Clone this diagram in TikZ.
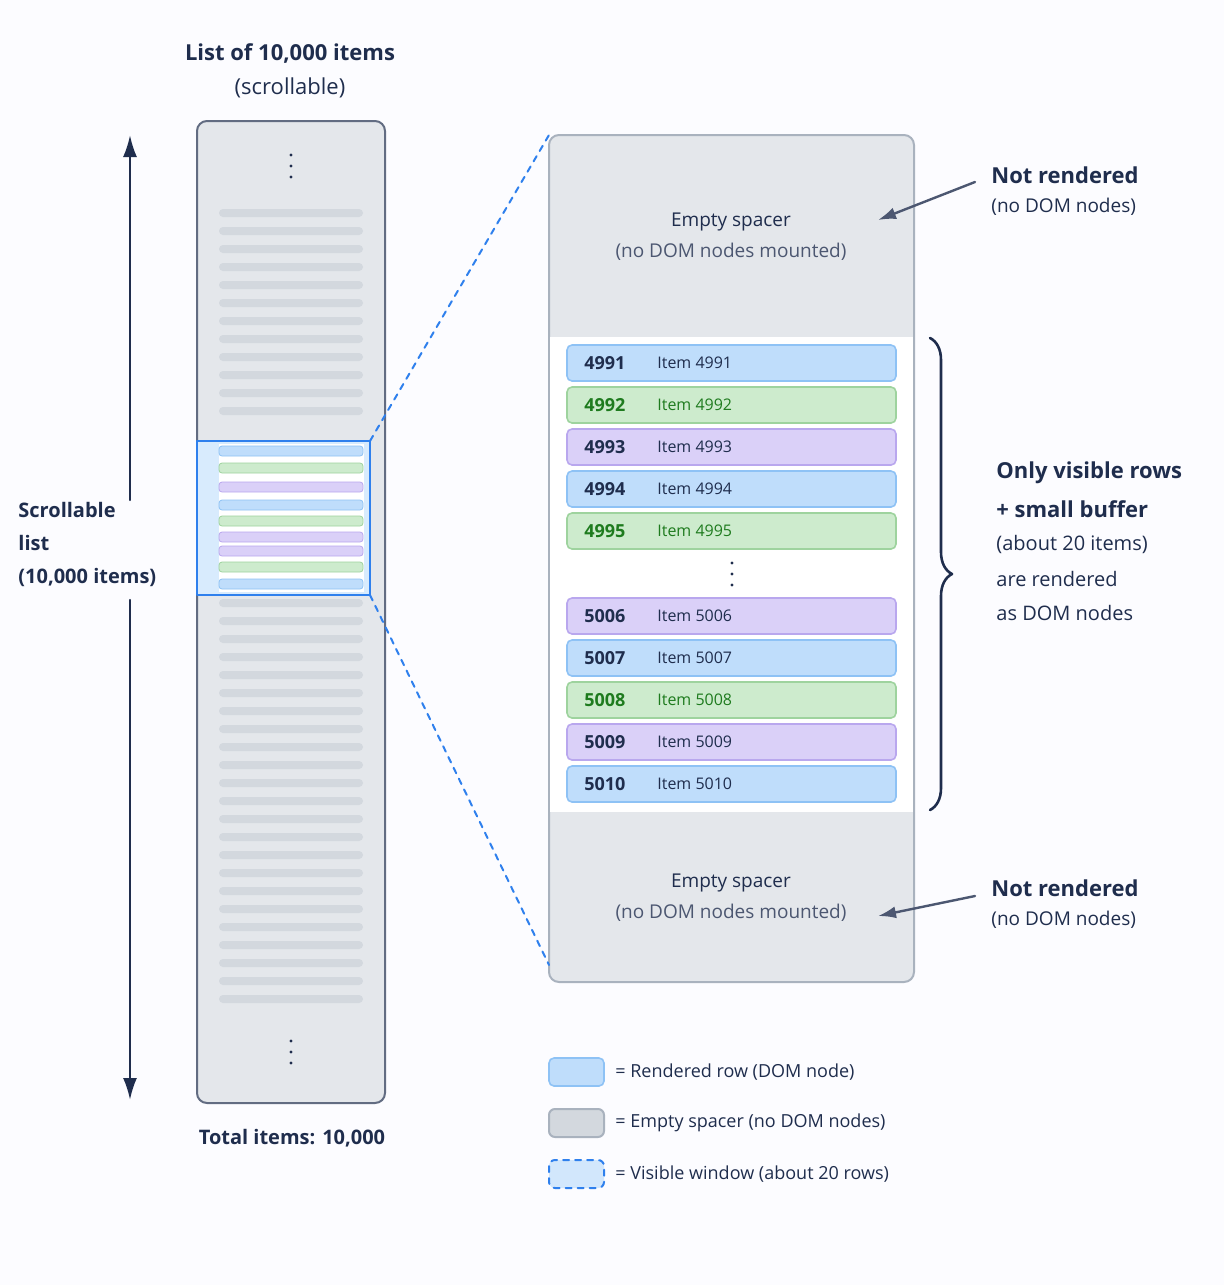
\documentclass[tikz,border=0pt]{standalone}
\usepackage{fontspec}
\setmainfont{Open Sans}
\usetikzlibrary{positioning,arrows.meta,decorations.pathreplacing}
\definecolor{navy}{HTML}{1F2D4D}
\definecolor{spacer}{HTML}{E4E7EB}
\definecolor{spacerline}{HTML}{A9B2BE}
\definecolor{barg}{HTML}{D3D8DE}
\definecolor{winblue}{HTML}{2F80ED}
\definecolor{bluef}{HTML}{BFDDFB}\definecolor{bluel}{HTML}{8EC2F5}
\definecolor{greenf}{HTML}{CDEBCD}\definecolor{greenl}{HTML}{9ED39E}
\definecolor{purplef}{HTML}{DAD0F8}\definecolor{purplel}{HTML}{B9A7EE}
\definecolor{greentext}{HTML}{1E7B1E}
\def\greenname{green}
\tikzset{
  lbl/.style={text=navy, inner sep=0pt, font=\fontsize{9.5}{12}\selectfont},
  boldlbl/.style={lbl, font=\fontsize{11}{13}\selectfont\bfseries},
  rowbox/.style={draw=#1l, fill=#1f, line width=0.8pt, rounded corners=2.5pt},
  minibar/.style={fill=#1f, draw=#1l, line width=0.4pt, rounded corners=1.5pt},
  spacerbox/.style={fill=spacer, draw=spacerline, line width=1pt, rounded corners=5pt},
}
\begin{document}
\begin{tikzpicture}[x=0.5pt, y=-0.5pt, line cap=round, line join=round]
  \fill[white!97!blue!40!white] (0,0) rectangle (1224,1285);
  % left: full list
  \node[boldlbl] (title) at (290,53) {List of 10,000 items};
  \node[lbl, font=\fontsize{11}{13}\selectfont] (subtitle) at (290,88) {(scrollable)};
  \draw[fill=spacer, draw=navy!70, line width=1pt, rounded corners=5pt] (197,121) rectangle (385,1103);
  \foreach \y in {213,231,...,411}
    \fill[barg, rounded corners=2pt] (219,\y-4) rectangle (363,\y+4);
  \foreach \y in {603,621,...,999}
    \fill[barg, rounded corners=2pt] (219,\y-4) rectangle (363,\y+4);
  \foreach \y in {166,1052}
    \foreach \d in {-11,0,11} \fill[navy] (291,\y+\d) circle (1.6);
  % visible window
  \fill[bluef!60] (197,441) rectangle (370,595);
  \fill[white] (219,444) rectangle (364,592);
  \draw[winblue, line width=1.2pt] (197,441) rectangle (370,595);
  \coordinate (wintop) at (370,441);
  \coordinate (winbot) at (370,595);
  \foreach \y/\c in {451/blue,468/green,487/purple,505/blue,521/green,537/purple,551/purple,567/green,584/blue}
    \draw[minibar=\c] (219,\y-5) rectangle (363,\y+5);
  % scroll arrow
  \coordinate (arrtop) at (130,135);
  \coordinate (arrbot) at (130,1100);
  \draw[navy, line width=1.2pt, -{Latex[length=11pt,width=7pt]}] (130,500) -- (arrtop);
  \draw[navy, line width=1.2pt, -{Latex[length=11pt,width=7pt]}] (130,600) -- (arrbot);
  \node[boldlbl, font=\fontsize{10}{16.5}\selectfont\bfseries, align=left, anchor=north west] (scrolllbl) at (18,502) {Scrollable\\list\\(10,000 items)};
  \node[boldlbl, font=\fontsize{10}{13}\selectfont\bfseries] (total) at (292,1138) {Total items: 10,000};
  % right: zoomed view
  \draw[spacerbox] (549,135) rectangle (914,982);
  \coordinate (paneltop) at (549,135);
  \coordinate (panelbot) at (549,965);
  \fill[white] (550,337) rectangle (913,812);
  \draw[winblue, dashed, line width=1pt] (wintop) -- (paneltop);
  \draw[winblue, dashed, line width=1pt] (winbot) -- (panelbot);
  \node[lbl] (sp1) at (731,222) {Empty spacer};
  \node[lbl, text=navy!80] (sp1b) at (731,252) {(no DOM nodes mounted)};
  \node[lbl] (sp2) at (731,883) {Empty spacer};
  \node[lbl, text=navy!80] (sp2b) at (731,913) {(no DOM nodes mounted)};
  \foreach \y/\c/\n in {363/blue/4991,405/green/4992,447/purple/4993,489/blue/4994,531/green/4995,
                        616/purple/5006,658/blue/5007,700/green/5008,742/purple/5009,784/blue/5010}{
    \draw[rowbox=\c] (567,\y-18) rectangle (896,\y+18);
    \ifx\c\greenname\def\tc{greentext}\else\def\tc{navy}\fi
    \node[lbl, anchor=west, font=\fontsize{9}{11}\selectfont\bfseries, text=\tc] (num\n) at (584,\y) {\n};
    \node[lbl, anchor=west, font=\fontsize{8}{10}\selectfont, text=\tc] (item\n) at (657,\y) {Item \n};
  }
  \foreach \d in {-11,0,11} \fill[navy] (732,574+\d) circle (1.6);
  % annotations
  \node[boldlbl, anchor=west] (nr1) at (991,175) {Not rendered};
  \node[lbl, anchor=west] (nr1b) at (991,207) {(no DOM nodes)};
  \node[boldlbl, anchor=west] (nr2) at (991,888) {Not rendered};
  \node[lbl, anchor=west] (nr2b) at (991,920) {(no DOM nodes)};
  \coordinate (tip1) at (878,220);
  \coordinate (tip2) at (878,916);
  \draw[navy!80, line width=1.2pt, -{Latex[length=9pt,width=6pt]}] (975,182) -- (tip1);
  \draw[navy!80, line width=1.2pt, -{Latex[length=9pt,width=6pt]}] (975,896) -- (tip2);
  \draw[navy, line width=1.3pt, decorate, decoration={brace, amplitude=11pt}]
    (930,338) -- (930,810);
  \node[boldlbl, anchor=west] (only) at (996,473) {Only visible rows};
  \node[boldlbl, anchor=west] (buffer) at (996,509) {+ small buffer};
  \node[lbl, anchor=west, font=\fontsize{10}{12}\selectfont] (about) at (996,544) {(about 20 items)};
  \node[lbl, anchor=west, font=\fontsize{10}{12}\selectfont] (are) at (996,579) {are rendered};
  \node[lbl, anchor=west, font=\fontsize{10}{12}\selectfont] (asdom) at (996,613) {as DOM nodes};
  % legend
  \draw[rowbox=blue] (549,1058) rectangle (604,1086);
  \draw[spacerbox, rounded corners=3pt, fill=barg] (549,1109) rectangle (604,1137);
  \draw[fill=bluef!70, draw=winblue, dashed, line width=1pt, rounded corners=3pt] (549,1160) rectangle (604,1188);
  \node[lbl, anchor=west, font=\fontsize{9}{11}\selectfont] (leg1) at (615,1072) {= Rendered row (DOM node)};
  \node[lbl, anchor=west, font=\fontsize{9}{11}\selectfont] (leg2) at (615,1123) {= Empty spacer (no DOM nodes)};
  \node[lbl, anchor=west, font=\fontsize{9}{11}\selectfont] (leg3) at (615,1174) {= Visible window (about 20 rows)};
\end{tikzpicture}
\end{document}
